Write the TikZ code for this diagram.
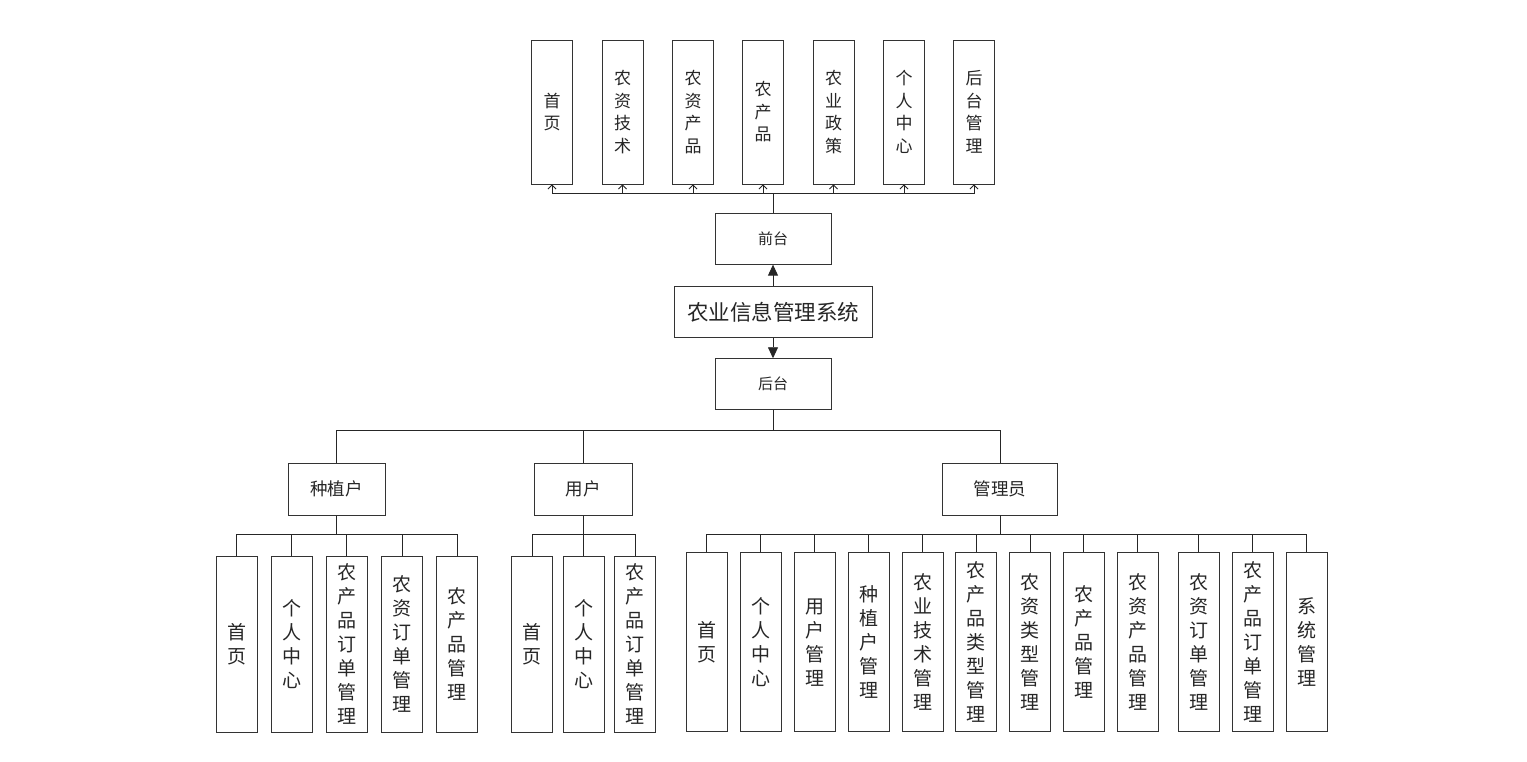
\documentclass[tikz,border=0pt]{standalone}
\usepackage{fontspec}
\setmainfont{Noto Sans CJK SC}
\usetikzlibrary{arrows.meta}

\begin{document}
\begin{tikzpicture}[x=1pt,y=-1pt,
  box/.style={draw=black!80, line width=0.9pt, fill=white, text=black!85, align=center, inner sep=0pt},
  topbox/.style={box, minimum width=41pt, minimum height=144pt, font=\fontsize{17}{22.5}\selectfont},
  leafbox/.style={box, minimum width=41pt, minimum height=176pt, font=\fontsize{19}{24}\selectfont},
  adminleaf/.style={leafbox, minimum height=179pt},
  midbox/.style={box, minimum width=116pt, minimum height=51pt, font=\fontsize{15}{17}\selectfont},
  groupbox/.style={box, minimum height=52pt, font=\fontsize{17.5}{20}\selectfont},
  link/.style={draw=black!85, line width=0.9pt},
  openarrow/.style={link, -{Straight Barb[length=4pt,width=8pt]}},
  fullarrow/.style={link, -{Triangle[length=11pt,width=10pt]}}]
\useasboundingbox[fill=white] (0,0) rectangle (1527,761);

% front end
\node[topbox] (fhome) at (552,112) {首\\页};
\node[topbox] (ftech) at (622.5,112) {农\\资\\技\\术};
\node[topbox] (fres) at (693,112) {农\\资\\产\\品};
\node[topbox] (fagri) at (763,112) {农\\产\\品};
\node[topbox] (fpolicy) at (833.5,112) {农\\业\\政\\策};
\node[topbox] (fcenter) at (904,112) {个\\人\\中\\心};
\node[topbox] (fadmin) at (974,112) {后\\台\\管\\理};

\node[midbox] (front) at (773,238.7) {前台};
\node[box, minimum width=198pt, minimum height=51pt, font=\fontsize{21.5}{24}\selectfont] (sys) at (773,312) {农业信息管理系统};
\node[midbox] (back) at (773,384.2) {后台};

\draw[fullarrow] (sys) -- (front);
\draw[fullarrow] (sys) -- (back);

\draw[openarrow] (front.north) -- ++(0,-19) -| (fhome.south);
\draw[openarrow] (front.north) -- ++(0,-19) -| (ftech.south);
\draw[openarrow] (front.north) -- ++(0,-19) -| (fres.south);
\draw[openarrow] (front.north) -- ++(0,-19) -| (fagri.south);
\draw[openarrow] (front.north) -- ++(0,-19) -| (fpolicy.south);
\draw[openarrow] (front.north) -- ++(0,-19) -| (fcenter.south);
\draw[openarrow] (front.north) -- ++(0,-19) -| (fadmin.south);

% back end roles
\node[groupbox, minimum width=97pt] (grower) at (336.5,489.2) {种植户};
\node[groupbox, minimum width=98pt] (user) at (583.3,489.2) {用户};
\node[groupbox, minimum width=115pt] (admin) at (1000,489.2) {管理员};

\draw[link] (back.south) -- ++(0,20.5) -| (grower.north);
\draw[link] (back.south) -- ++(0,20.5) -| (user.north);
\draw[link] (back.south) -- ++(0,20.5) -| (admin.north);

% grower
\node[leafbox] (ghome) at (236.5,644) {首\\页};
\node[leafbox] (gcenter) at (291.5,644) {个\\人\\中\\心};
\node[leafbox] (gagriorder) at (346.5,644) {农\\产\\品\\订\\单\\管\\理};
\node[leafbox] (gresorder) at (402,644) {农\\资\\订\\单\\管\\理};
\node[leafbox] (gagri) at (457,644) {农\\产\\品\\管\\理};

\draw[link] (grower.south) -- ++(0,18.3) -| (ghome.north);
\draw[link] (grower.south) -- ++(0,18.3) -| (gcenter.north);
\draw[link] (grower.south) -- ++(0,18.3) -| (gagriorder.north);
\draw[link] (grower.south) -- ++(0,18.3) -| (gresorder.north);
\draw[link] (grower.south) -- ++(0,18.3) -| (gagri.north);

% user
\node[leafbox] (uhome) at (532,644) {首\\页};
\node[leafbox] (ucenter) at (583.5,644) {个\\人\\中\\心};
\node[leafbox] (uorder) at (635,644) {农\\产\\品\\订\\单\\管\\理};

\draw[link] (user.south) -- ++(0,18.3) -| (uhome.north);
\draw[link] (user.south) -- ++(0,18.3) -| (ucenter.north);
\draw[link] (user.south) -- ++(0,18.3) -| (uorder.north);

% admin
\node[adminleaf] (ahome) at (706.5,642.4) {首\\页};
\node[adminleaf] (acenter) at (760.5,642.4) {个\\人\\中\\心};
\node[adminleaf] (auser) at (814.5,642.4) {用\\户\\管\\理};
\node[adminleaf] (agrower) at (868.5,642.4) {种\\植\\户\\管\\理};
\node[adminleaf] (atech) at (922.5,642.4) {农\\业\\技\\术\\管\\理};
\node[adminleaf] (aptype) at (976,642.4) {农\\产\\品\\类\\型\\管\\理};
\node[adminleaf] (artype) at (1030,642.4) {农\\资\\类\\型\\管\\理};
\node[adminleaf] (aagri) at (1083.5,642.4) {农\\产\\品\\管\\理};
\node[adminleaf] (ares) at (1137.5,642.4) {农\\资\\产\\品\\管\\理};
\node[adminleaf] (aresorder) at (1198.5,642.4) {农\\资\\订\\单\\管\\理};
\node[adminleaf] (aagriorder) at (1252.5,642.4) {农\\产\\品\\订\\单\\管\\理};
\node[adminleaf] (asys) at (1306.5,642.4) {系\\统\\管\\理};

\draw[link] (admin.south) -- ++(0,19) -| (ahome.north);
\draw[link] (admin.south) -- ++(0,19) -| (acenter.north);
\draw[link] (admin.south) -- ++(0,19) -| (auser.north);
\draw[link] (admin.south) -- ++(0,19) -| (agrower.north);
\draw[link] (admin.south) -- ++(0,19) -| (atech.north);
\draw[link] (admin.south) -- ++(0,19) -| (aptype.north);
\draw[link] (admin.south) -- ++(0,19) -| (artype.north);
\draw[link] (admin.south) -- ++(0,19) -| (aagri.north);
\draw[link] (admin.south) -- ++(0,19) -| (ares.north);
\draw[link] (admin.south) -- ++(0,19) -| (aresorder.north);
\draw[link] (admin.south) -- ++(0,19) -| (aagriorder.north);
\draw[link] (admin.south) -- ++(0,19) -| (asys.north);
\end{tikzpicture}
\end{document}
